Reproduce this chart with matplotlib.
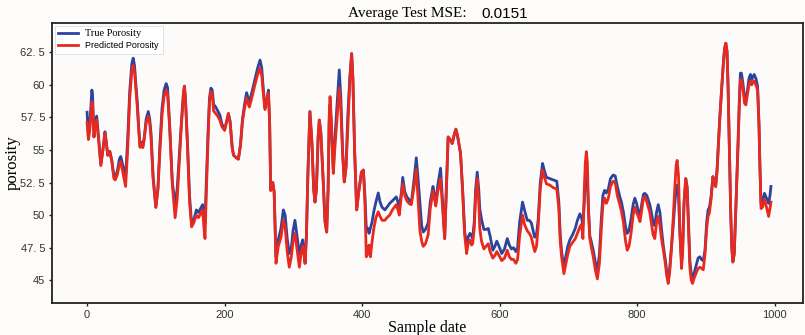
import matplotlib
matplotlib.use("Agg")
import matplotlib.pyplot as plt

# ---- data ----
sample_idx = [0, 2, 4, 7, 8, 10, 12, 14, 17, 20, 23, 26, 28, 30, 33, 36, 39, 41, 44, 47, 49, 52, 56, 59, 62, 65, 67, 69, 71, 73, 75, 77, 79, 81, 83, 86, 89, 91, 93, 96, 100, 103, 106, 109, 112, 115, 117, 120, 124, 128, 131, 134, 137, 140, 141.5, 143, 146, 149, 152, 155, 159, 162, 165, 168, 170, 171.5, 173, 176, 178, 180, 182, 184, 187, 190, 193, 196, 200, 203, 205.5, 208, 211, 213, 217, 220, 223, 226, 229, 232, 234, 236, 240, 244, 248, 251.5, 254, 256.5, 258.7, 261, 263.7, 265.5, 267, 270, 272, 274.7, 278, 282, 285.4, 288, 291, 294, 297, 299.5, 302.3, 305, 308.7, 311, 313.5, 315.5, 317, 319, 321, 324, 327, 329.5, 331.4, 333.5, 336, 337.7, 340, 343, 346, 348.4, 350.5, 352, 353.3, 355, 358, 360.5, 363.5, 366.7, 369, 371.5, 374, 376.5, 379, 382, 384.7, 386.5, 389, 392, 395, 399, 401.8, 404, 406, 408, 410, 412, 414.5, 417, 420, 423.4, 426, 429, 433, 436, 440, 444, 449.6, 452, 454, 457, 459, 462, 465, 468, 471.4, 475, 478.7, 481, 484, 486.5, 488.8, 492, 496, 499, 503, 505, 507, 510, 514, 517, 520, 523, 525, 528, 531, 534, 536.3, 539, 543, 546, 549, 551.9, 554, 556.7, 559, 560.6, 563, 565, 567.3, 569.5, 571, 573.5, 577, 580, 583.4, 586, 590, 593, 595.8, 599, 603, 607, 611, 614, 617, 620, 623.5, 626, 629, 633.2, 636, 640, 643, 646, 649, 651, 653.5, 656, 659, 662.3, 665, 668, 673, 678, 683, 686, 688, 690, 693.3, 696, 699, 702, 706, 710, 713, 716.6, 719, 721, 723, 724.5, 726, 727.5, 729, 731, 733, 736, 739, 742, 745, 747.5, 750, 752.5, 755, 758, 761, 765, 768, 771, 774.7, 777, 780, 783, 785.4, 788, 791, 794, 796.5, 799, 801.5, 804, 807, 809, 811, 814, 818.3, 821, 823, 825.5, 828, 830.5, 833, 835.5, 838, 841, 843, 845, 847, 849.8, 852, 854.5, 856.5, 858, 860, 862, 864.3, 866, 868, 870.5, 872.5, 874.5, 876.5, 878.5, 880.4, 883, 886, 888.5, 891, 893.5, 896, 898.5, 901, 903, 905, 907.5, 910, 912, 914, 916, 918, 920, 922.5, 925, 927, 928.8, 930.5, 932, 934, 936, 937.5, 939, 941, 944, 946.5, 948.5, 950, 951.5, 953.5, 956, 958, 960, 962.5, 964.6, 966.5, 968, 970, 972.5, 975, 977, 978.5, 980, 982, 985, 988, 991, 993, 994.4]

true_porosity = [57.9, 55.9, 57.0, 59.6, 59.2, 56.0, 57.0, 57.6, 55.8, 53.9, 55.0, 56.4, 55.6, 54.6, 54.9, 54.2, 53.0, 52.9, 53.4, 54.3, 54.5, 53.8, 52.9, 55.8, 59.5, 61.6, 62.05, 61.5, 60.0, 58.7, 56.8, 55.3, 55.6, 55.2, 55.9, 57.4, 57.95, 57.4, 56.3, 53.0, 50.6, 52.0, 55.5, 58.2, 59.6, 60.1, 59.8, 57.0, 52.5, 50.9, 52.0, 54.5, 57.0, 59.3, 59.9, 59.0, 55.5, 51.5, 49.3, 49.6, 50.4, 50.2, 50.5, 50.8, 49.8, 49.4, 52.0, 56.5, 59.0, 59.75, 59.6, 58.5, 58.3, 58.0, 57.7, 57.0, 56.6, 57.2, 57.8, 57.2, 55.2, 54.6, 54.4, 54.3, 55.4, 57.4, 58.5, 59.4, 59.0, 58.7, 59.5, 60.4, 61.3, 61.9, 61.3, 59.5, 58.2, 58.8, 59.6, 57.0, 51.9, 52.5, 51.8, 46.8, 48.1, 49.0, 50.4, 50.0, 48.2, 47.05, 47.5, 48.8, 49.6, 48.5, 47.0, 47.6, 48.1, 47.2, 46.3, 48.5, 53.0, 57.95, 55.5, 52.0, 51.0, 52.0, 56.0, 57.3, 56.3, 53.0, 49.5, 48.7, 52.0, 57.0, 58.5, 57.0, 53.5, 56.0, 58.5, 61.15, 59.0, 55.0, 52.55, 53.7, 57.5, 60.5, 62.4, 60.5, 55.0, 50.4, 51.8, 53.3, 53.46, 51.5, 49.0, 49.0, 48.6, 49.0, 49.5, 50.3, 51.0, 51.7, 51.0, 50.6, 50.4, 50.6, 50.9, 51.1, 51.4, 51.0, 50.6, 51.7, 52.9, 51.8, 51.4, 51.2, 50.9, 52.5, 54.4, 53.0, 50.9, 49.2, 48.7, 48.9, 49.4, 51.0, 52.2, 51.6, 50.9, 52.3, 53.6, 51.0, 48.2, 53.0, 56.0, 55.8, 55.5, 56.2, 56.6, 56.0, 54.75, 52.0, 48.8, 47.6, 48.3, 48.6, 48.4, 48.2, 49.5, 52.0, 53.3, 52.0, 50.5, 49.7, 48.9, 48.9, 48.97, 48.4, 47.3, 47.6, 48.0, 47.6, 47.05, 47.4, 48.2, 47.7, 47.4, 47.5, 47.2, 47.5, 49.5, 51.0, 50.4, 49.6, 49.6, 49.4, 48.7, 48.3, 48.5, 49.7, 52.5, 53.97, 53.4, 52.9, 52.8, 52.7, 52.6, 51.0, 48.5, 47.2, 46.0, 46.8, 47.6, 48.1, 48.5, 49.0, 49.6, 50.1, 49.8, 49.2, 51.0, 52.8, 53.5, 52.8, 50.5, 48.4, 48.0, 47.3, 46.4, 45.77, 47.0, 49.5, 51.5, 51.9, 51.7, 52.0, 52.8, 53.08, 53.0, 52.2, 51.4, 51.0, 50.2, 49.1, 48.6, 48.8, 49.7, 50.8, 51.3, 50.9, 50.3, 50.0, 51.0, 51.6, 51.67, 51.5, 50.8, 50.1, 49.4, 49.2, 50.2, 50.8, 50.2, 48.8, 47.6, 46.5, 45.6, 45.1, 45.8, 47.6, 49.0, 50.8, 52.0, 52.3, 51.5, 48.5, 46.5, 47.5, 51.0, 52.8, 52.2, 49.5, 46.5, 45.5, 45.1, 45.6, 46.2, 46.7, 46.8, 46.6, 46.5, 47.3, 49.5, 50.4, 50.6, 51.5, 52.95, 52.6, 52.2, 53.5, 55.5, 57.5, 59.5, 61.5, 62.8, 63.2, 62.6, 60.0, 55.0, 50.0, 47.5, 46.4, 47.0, 51.5, 55.5, 59.0, 60.9, 60.9, 60.2, 59.0, 58.85, 59.5, 60.5, 60.8, 60.4, 60.6, 60.8, 60.5, 59.9, 57.0, 53.5, 50.9, 51.0, 51.67, 51.3, 50.9, 51.5, 52.2]

predicted_porosity = [57.1, 55.8, 56.6, 58.7, 58.5, 56.0, 56.8, 57.3, 55.6, 53.8, 55.0, 56.3, 55.5, 54.6, 54.9, 54.1, 52.8, 52.7, 53.1, 53.9, 54.1, 53.3, 52.2, 55.0, 59.0, 61.0, 61.5, 61.0, 59.6, 58.3, 56.6, 55.2, 55.5, 55.2, 55.8, 57.1, 57.6, 57.1, 55.9, 52.8, 50.6, 52.0, 55.0, 57.7, 59.1, 59.6, 59.3, 56.8, 52.3, 49.8, 51.2, 54.0, 56.8, 59.2, 59.9, 59.0, 55.3, 51.0, 49.1, 49.4, 50.0, 49.8, 50.1, 50.4, 49.0, 48.2, 51.0, 56.0, 58.7, 59.5, 59.3, 58.0, 57.8, 57.6, 57.3, 56.8, 56.5, 57.2, 57.8, 57.1, 55.2, 54.6, 54.4, 54.3, 55.3, 57.2, 58.2, 59.0, 58.6, 58.3, 59.1, 60.0, 60.8, 61.3, 60.7, 59.2, 58.1, 58.7, 59.4, 57.0, 51.9, 52.5, 51.8, 46.3, 47.6, 48.3, 49.6, 49.1, 47.2, 46.0, 46.8, 48.0, 48.6, 47.5, 46.0, 47.0, 47.6, 46.9, 46.3, 48.5, 53.0, 57.95, 55.5, 52.0, 51.0, 52.0, 56.0, 57.3, 56.2, 53.0, 49.5, 48.7, 52.0, 57.5, 59.1, 57.5, 53.2, 55.3, 57.5, 59.75, 58.2, 54.7, 52.55, 53.6, 56.5, 60.3, 62.4, 60.5, 55.0, 50.4, 51.8, 53.3, 53.46, 51.0, 46.8, 47.0, 47.7, 46.8, 48.0, 49.0, 49.8, 50.25, 49.9, 49.6, 49.6, 49.8, 50.0, 50.4, 50.8, 50.4, 50.0, 51.5, 52.4, 51.5, 51.1, 50.9, 50.8, 52.0, 53.5, 51.5, 48.8, 48.0, 47.6, 47.8, 48.5, 50.5, 51.85, 51.3, 50.7, 51.8, 52.8, 50.5, 48.2, 53.0, 56.0, 55.8, 55.5, 56.2, 56.6, 56.0, 54.75, 52.0, 48.5, 47.05, 47.8, 48.1, 47.7, 47.8, 49.0, 51.5, 52.8, 51.0, 49.0, 48.0, 47.4, 47.6, 47.8, 47.2, 46.7, 46.9, 47.2, 46.9, 46.5, 46.7, 47.3, 46.8, 46.6, 46.6, 46.3, 46.6, 48.4, 50.0, 49.3, 48.8, 48.6, 48.3, 47.6, 47.2, 47.6, 49.2, 52.0, 53.46, 52.9, 52.4, 52.3, 52.1, 52.0, 50.5, 48.0, 46.8, 45.5, 46.2, 47.0, 47.6, 47.9, 48.2, 48.6, 49.1, 49.3, 48.2, 52.0, 54.0, 54.87, 54.0, 50.5, 48.2, 47.6, 46.8, 45.8, 45.1, 46.3, 48.7, 50.8, 51.3, 50.9, 51.3, 52.2, 52.6, 52.5, 51.5, 50.8, 50.3, 49.4, 48.0, 47.3, 47.6, 48.6, 50.0, 50.6, 50.2, 49.9, 49.5, 50.6, 51.3, 51.4, 51.0, 50.2, 49.2, 48.5, 48.2, 49.4, 49.9, 49.2, 48.1, 47.3, 46.2, 45.3, 44.75, 45.5, 47.5, 49.5, 52.0, 53.8, 54.2, 53.0, 49.0, 45.9, 47.0, 50.8, 52.8, 52.0, 49.0, 46.0, 45.0, 44.75, 45.2, 45.6, 45.9, 46.0, 45.9, 45.8, 47.0, 49.0, 49.9, 50.2, 51.3, 52.95, 52.5, 52.2, 53.3, 55.3, 57.3, 59.5, 61.5, 62.8, 63.2, 62.6, 60.0, 55.0, 50.0, 47.5, 46.4, 47.0, 51.5, 55.2, 58.5, 60.4, 60.4, 59.8, 58.6, 58.46, 59.2, 60.0, 60.3, 60.0, 60.2, 60.3, 60.0, 59.6, 57.0, 53.5, 50.5, 50.6, 51.2, 50.6, 49.9, 50.5, 51.0]

x_ticks = [0, 200, 400, 600, 800, 1000]
x_tick_labels = ["0", "200", "400", "600", "800", "1000"]
y_ticks = [45, 47.5, 50, 52.5, 55, 57.5, 60, 62.5]
y_tick_labels = ["45", "47. 5", "50", "52. 5", "55", "57. 5", "60", "62. 5"]
series_labels = ["True Porosity", "Predicted Porosity"]
title_text = "Average Test MSE:"
mse_text = "0.0151"
x_label = "Sample date"
y_label = "porosity"

SERIF = "Liberation Serif"
SANS = "Liberation Sans"

fig = plt.figure(figsize=(8.05, 3.35), dpi=100, facecolor="#fdfcfb")
ax = fig.add_axes([0.0646, 0.0955, 0.9329, 0.8358])
ax.set_facecolor("#fcfbf9")

ax.plot(sample_idx, true_porosity, color="#2d449c", lw=2.0, label=series_labels[0],
        solid_joinstyle="round")
ax.plot(sample_idx, predicted_porosity, color="#e8291f", lw=2.0, label=series_labels[1],
        solid_joinstyle="round")

ax.set_xlim(-51, 1041)
ax.set_ylim(43.25, 64.75)
ax.set_xticks(x_ticks)
ax.set_xticklabels(x_tick_labels, fontfamily=SANS, fontsize=8, color="#333333")
ax.set_yticks(y_ticks)
ax.set_yticklabels(y_tick_labels, fontfamily=SANS, fontsize=8, color="#333333")
ax.tick_params(axis="both", direction="out", length=2, width=1, color="#222222", pad=3)

for side in ["left", "bottom", "top", "right"]:
    ax.spines[side].set_color("#222222")
    ax.spines[side].set_linewidth(1.3)

ax.set_xlabel(x_label, fontfamily=SERIF, fontsize=11.5, labelpad=0)
ax.set_ylabel(y_label, fontfamily=SERIF, fontsize=12, labelpad=0)

leg = ax.legend(loc="upper left", fontsize=6.5, frameon=True, fancybox=False,
                edgecolor="#dddddd", framealpha=1, handlelength=2.2,
                borderaxespad=0.3, labelspacing=0.3)
leg.get_frame().set_linewidth(0.6)
texts = leg.get_texts()
texts[0].set_fontfamily(SERIF)
texts[0].set_fontsize(7.5)
texts[1].set_fontfamily(SANS)

fig.text(467 / 805, 1 - 14 / 335, title_text, ha="right", va="center",
         fontfamily=SERIF, fontsize=11)
fig.text(481 / 805, 1 - 14 / 335, mse_text, ha="left", va="center",
         fontfamily=SANS, fontsize=11)

fig.savefig("out.png", dpi=100, facecolor=fig.get_facecolor())
